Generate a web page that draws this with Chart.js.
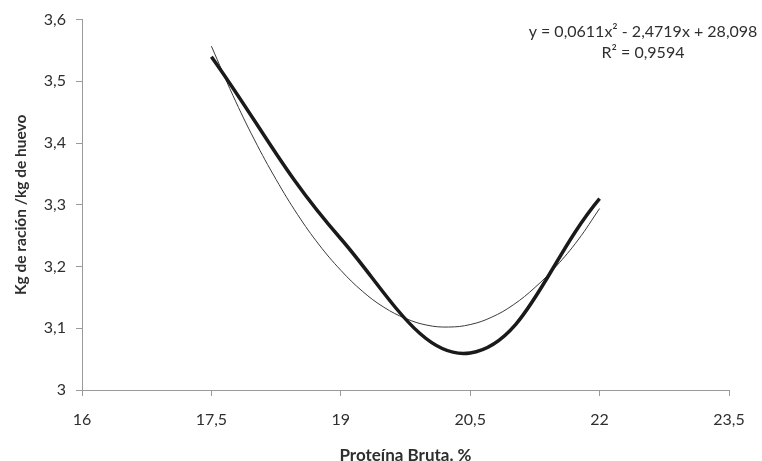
<!DOCTYPE html>
<html>
<head>
<meta charset="utf-8">
<script src="https://cdn.jsdelivr.net/npm/chart.js@4.4.1/dist/chart.umd.min.js"></script>
<style>
  html, body { margin: 0; padding: 0; background: #ffffff; }
  #wrap { width: 762px; height: 461px; position: relative; }
</style>
</head>
<body>
<div id="wrap"><canvas id="c" width="762" height="461"></canvas></div>
<script>
// Observed data (Proteína Bruta %, Kg de ración / kg de huevo)
const proteinLevels = [17.5, 19, 20.5, 22];
const feedConversion = [3.54, 3.245, 3.06, 3.31];

// Polynomial trend line
const trendX = [17.5, 17.75, 18, 18.25, 18.5, 18.75, 19, 19.25, 19.5, 19.75, 20, 20.25, 20.5, 20.75, 21, 21.25, 21.5, 21.75, 22];
const trendY = [3.557, 3.477, 3.405, 3.341, 3.284, 3.235, 3.194, 3.160, 3.134, 3.116, 3.105, 3.102, 3.106, 3.118, 3.138, 3.166, 3.201, 3.243, 3.294];

// Axis settings
const xMin = 16, xMax = 23.5, xStep = 1.5;
const yMin = 3, yMax = 3.6, yStep = 0.1;

const equationLines = ["y = 0,0611x\u00B2 - 2,4719x + 28,098", "R\u00B2 = 0,9594"];
const xTitle = "Proteína Bruta. %";
const yTitle = "Kg de ración /kg de huevo";

const FONT = "Lato, 'Open Sans', sans-serif";
const TEXT = "#2e2e2e";
const AXIS = "#9a9a9a";

const fmt = v => Number(Number(v).toFixed(2)).toString().replace('.', ',');

const equationPlugin = {
  id: 'equation',
  afterDraw(chart) {
    const ctx = chart.ctx;
    ctx.save();
    ctx.fillStyle = TEXT;
    ctx.font = "16px " + FONT;
    ctx.textAlign = 'center';
    ctx.textBaseline = 'middle';
    ctx.fillText(equationLines[0], 643, 32);
    ctx.fillText(equationLines[1], 643, 53);
    ctx.restore();
  }
};

new Chart(document.getElementById('c'), {
  type: 'line',
  data: {
    datasets: [
      {
        label: 'Observado',
        data: proteinLevels.map((x, i) => ({ x: x, y: feedConversion[i] })),
        borderColor: '#1a1a1a',
        borderWidth: 3.5,
        pointRadius: 0,
        tension: 0.4,
        fill: false
      },
      {
        label: 'Polinómica',
        data: trendX.map((x, i) => ({ x: x, y: trendY[i] })),
        borderColor: '#3a3a3a',
        borderWidth: 1,
        pointRadius: 0,
        tension: 0.4,
        fill: false
      }
    ]
  },
  options: {
    responsive: false,
    animation: false,
    layout: { padding: { left: 0, right: 33, top: 19, bottom: 0 } },
    plugins: {
      legend: { display: false },
      tooltip: { enabled: false },
      title: { display: false }
    },
    scales: {
      x: {
        type: 'linear',
        min: xMin, max: xMax,
        afterFit: s => { s.height = 71; },
        afterBuildTicks: s => {
          const t = [];
          for (let v = xMin; v <= xMax + 1e-9; v += xStep) t.push({ value: Math.round(v * 10) / 10 });
          s.ticks = t;
        },
        ticks: {
          color: TEXT,
          font: { family: FONT, size: 16 },
          padding: 14,
          maxRotation: 0,
          callback: v => fmt(v)
        },
        grid: { display: true, drawOnChartArea: false, drawTicks: true, tickLength: 6, color: AXIS },
        border: { display: true, color: AXIS, width: 1 },
        title: {
          display: true, text: xTitle, color: TEXT,
          font: { family: FONT, size: 17, weight: 'bold', lineHeight: 0.6 },
          padding: { top: 0, bottom: 0 }
        }
      },
      y: {
        type: 'linear',
        min: yMin, max: yMax,
        afterFit: s => { s.width = 82; },
        afterBuildTicks: s => {
          const t = [];
          for (let i = 0; i <= 6; i++) t.push({ value: Math.round((yMin + i * yStep) * 10) / 10 });
          s.ticks = t;
        },
        ticks: {
          color: TEXT,
          font: { family: FONT, size: 16 },
          padding: 10,
          callback: v => fmt(v)
        },
        grid: { display: true, drawOnChartArea: false, drawTicks: true, tickLength: 6, color: AXIS },
        border: { display: true, color: AXIS, width: 1 },
        title: {
          display: true, text: yTitle, color: TEXT,
          font: { family: FONT, size: 15.5, weight: 'bold', lineHeight: 1.2 },
          padding: { top: 12, bottom: 0 }
        }
      }
    }
  },
  plugins: [equationPlugin]
});
</script>
</body>
</html>
